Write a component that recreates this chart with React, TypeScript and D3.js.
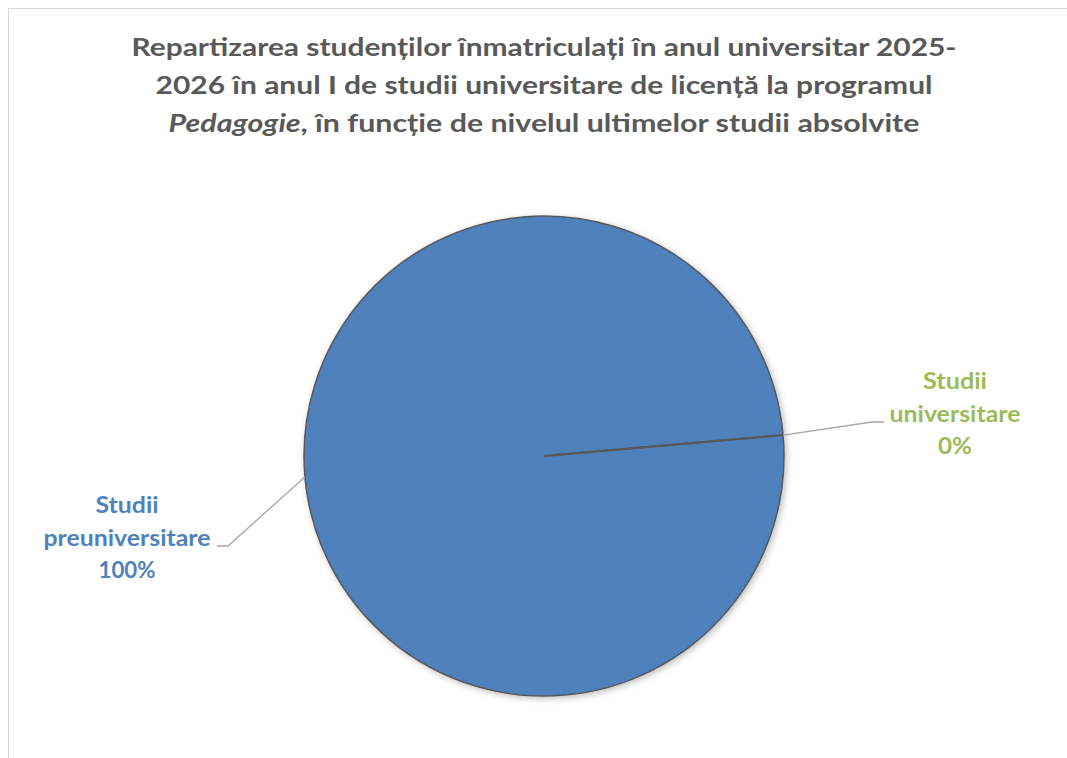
import React from "react";
import * as d3 from "d3";

const titleLines: { t: string; italic?: boolean }[][] = [
  [{ t: "Repartizarea studenților înmatriculați în anul universitar 2025-" }],
  [{ t: "2026 în anul I de studii universitare de licență la programul" }],
  [{ t: "Pedagogie", italic: true }, { t: ", în funcție de nivelul ultimelor studii absolvite" }],
];

const categories = ["Studii preuniversitare", "Studii universitare"];
const values = [100, 0];
const labelLines = [
  ["Studii", "preuniversitare", "100%"],
  ["Studii", "universitare", "0%"],
];
const colors = ["#4F81BD", "#9BBB59"];

const W = 1067;
const H = 758;
const cx = 544;
const cy = 456;
const R = 240;
const startDeg = 85;

export default function App() {
  const pie = d3
    .pie<number>()
    .sort(null)
    .value((d) => d)
    .startAngle((startDeg * Math.PI) / 180)
    .endAngle((startDeg * Math.PI) / 180 + 2 * Math.PI);
  const arcs = pie(values);
  const arcGen = d3.arc<d3.PieArcDatum<number>>().innerRadius(0).outerRadius(R);
  const total = d3.sum(values);
  const pt = (a: number, r: number) => [Math.sin(a) * r, -Math.cos(a) * r];

  const titleWidths = [825, 777, 751];
  const titleBaselines = [56, 94, 132];
  const fontFamily = "Lato, 'Open Sans', sans-serif";

  const labelPos = [
    { elbow: [228, 546], end: [217, 546], x: 127, y0: 513, widths: [63, 167, 57] },
    { elbow: [872, 422], end: [884, 422], x: 955, y0: 389, widths: [64, 131, 34] },
  ];

  return (
    <svg
      width={W}
      height={H}
      style={{ position: "absolute", left: 0, top: 0, background: "#fff" }}
      fontFamily={fontFamily}
    >
      <defs>
        <filter id="shadow" x="-10%" y="-10%" width="130%" height="130%">
          <feDropShadow dx="2" dy="2" stdDeviation="3" floodColor="#000" floodOpacity="0.25" />
        </filter>
      </defs>
      <rect x={8.5} y={8.5} width={W + 20} height={H + 20} fill="#fff" stroke="#d9d9d9" strokeWidth={1} />
      <g>
        {titleLines.map((line, i) => (
          <text
            key={i}
            x={cx}
            y={titleBaselines[i]}
            textAnchor="middle"
            fontSize={25.5}
            fontWeight="bold"
            fill="#595959"
            textLength={titleWidths[i]}
            lengthAdjust="spacingAndGlyphs"
          >
            {line.map((s, j) => (
              <tspan key={j} fontStyle={s.italic ? "italic" : "normal"}>
                {s.t}
              </tspan>
            ))}
          </text>
        ))}
      </g>
      <g transform={`translate(${cx},${cy})`}>
        <g filter="url(#shadow)">
          {arcs.map((a, i) =>
            a.value > 0 ? (
              <path key={i} d={arcGen(a) || ""} fill={colors[i]} stroke="#595959" strokeWidth={1.5} />
            ) : null
          )}
        </g>
        {arcs.map((a, i) => {
          const [x2, y2] = pt(a.startAngle, R);
          return <line key={"b" + i} x1={0} y1={0} x2={x2} y2={y2} stroke="#595959" strokeWidth={2} />;
        })}
      </g>
      {arcs.map((a, i) => {
        const mid = (a.startAngle + a.endAngle) / 2;
        const [px, py] = pt(mid, R);
        const lp = labelPos[i];
        const pct = Math.round((a.value / total) * 100);
        const lines = labelLines[i];
        return (
          <g key={"l" + i}>
            <polyline
              points={`${cx + px},${cy + py} ${lp.elbow[0]},${lp.elbow[1]} ${lp.end[0]},${lp.end[1]}`}
              fill="none"
              stroke="#a6a6a6"
              strokeWidth={1.3}
            />
            {lines.map((l, k) => (
              <text
                key={k}
                x={lp.x}
                y={lp.y0 + k * 32.5}
                textAnchor="middle"
                fontSize={22.5}
                fontWeight="bold"
                fill={colors[i]}
                textLength={lp.widths[k]}
                lengthAdjust="spacingAndGlyphs"
                aria-label={k === 0 ? categories[i] : undefined}
              >
                {k === lines.length - 1 ? `${pct}%` : l}
              </text>
            ))}
          </g>
        );
      })}
    </svg>
  );
}
